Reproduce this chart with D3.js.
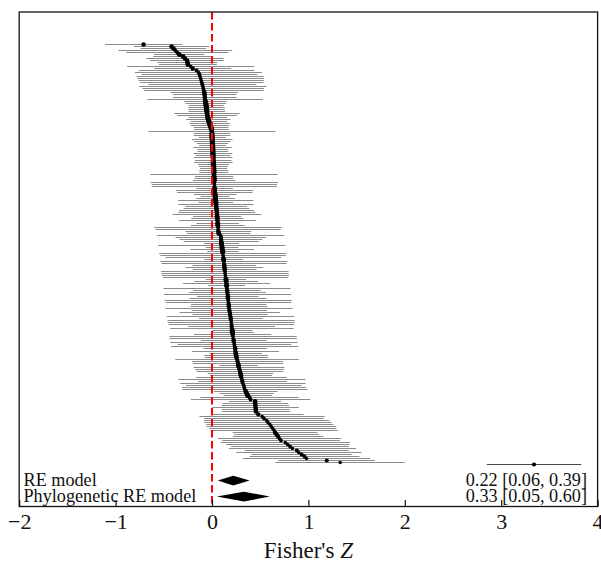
<!DOCTYPE html>
<html>
<head>
<meta charset="utf-8">
<script src="https://cdn.jsdelivr.net/npm/d3@7/dist/d3.min.js"></script>
<style>
  html, body { margin: 0; padding: 0; background: #fff; }
  svg { display: block; }
</style>
</head>
<body>
<svg id="chart" width="601" height="566"></svg>
<script>
// ---- data (Fisher's Z estimates, sorted, with CI half-widths) ----
const est = [
  -0.71, -0.42, -0.40, -0.38, -0.36, -0.34, -0.30, -0.28, -0.26, -0.255,
  -0.25, -0.22, -0.20, -0.16, -0.14, -0.13, -0.124, -0.118, -0.112, -0.106,
  -0.10, -0.095, -0.09, -0.085, -0.08, -0.077, -0.074, -0.071, -0.068, -0.064,
  -0.061, -0.058, -0.056, -0.053, -0.051, -0.048, -0.043, -0.038, -0.032, -0.025,
  -0.018, -0.01,
  -0.005, 0.00, 0.00, 0.00, 0.002, 0.003, 0.004, 0.005, 0.006, 0.007,
  0.008, 0.009, 0.01, 0.011, 0.012, 0.013, 0.014, 0.015, 0.016, 0.017,
  0.018, 0.019, 0.02, 0.021, 0.022, 0.023, 0.024, 0.025, 0.026, 0.027,
  0.028, 0.03, 0.032, 0.034, 0.036, 0.038, 0.04, 0.042, 0.044, 0.046,
  0.048, 0.05,
  0.051, 0.053, 0.055, 0.057, 0.059, 0.061, 0.063, 0.064, 0.066, 0.07,
  0.09, 0.092, 0.094, 0.096, 0.098, 0.10, 0.104, 0.106, 0.11, 0.112,
  0.115, 0.118, 0.12, 0.123, 0.125, 0.127, 0.129, 0.132, 0.134, 0.136,
  0.139, 0.141, 0.145, 0.147, 0.15, 0.152, 0.155, 0.157, 0.16, 0.162,
  0.164, 0.166, 0.169,
  0.17, 0.173, 0.175, 0.178, 0.18, 0.184, 0.187, 0.191, 0.195, 0.198,
  0.20, 0.202, 0.204, 0.207, 0.21, 0.213, 0.215, 0.218, 0.22, 0.225,
  0.228, 0.232, 0.235, 0.24, 0.243, 0.247, 0.25, 0.255, 0.26, 0.265,
  0.27, 0.275, 0.28, 0.285, 0.29, 0.295, 0.30, 0.305, 0.31, 0.315,
  0.32,
  0.33, 0.335, 0.34, 0.35, 0.36, 0.37, 0.39, 0.40, 0.446, 0.448,
  0.45, 0.452, 0.454, 0.456, 0.48, 0.52, 0.54, 0.567, 0.58, 0.60,
  0.615, 0.63, 0.645, 0.654, 0.67, 0.685, 0.70, 0.715, 0.76, 0.785,
  0.81, 0.835, 0.88, 0.90, 0.93, 0.96, 0.98, 1.19, 1.33,
  3.34
];
const halfCI = [
  0.40, 0.39, 0.34, 0.59, 0.53, 0.26, 0.31, 0.40, 0.38, 0.31,
  0.30, 0.66, 0.40, 0.60, 0.66, 0.60, 0.66, 0.66, 0.65, 0.64,
  0.56, 0.66, 0.63, 0.62, 0.35, 0.33, 0.33, 0.60, 0.22, 0.21,
  0.18, 0.19, 0.19, 0.19, 0.34, 0.31, 0.20, 0.23, 0.19, 0.21,
  0.20, 0.18,
  0.18, 0.66, 0.19, 0.19, 0.14, 0.21, 0.19, 0.16, 0.14, 0.20,
  0.16, 0.16, 0.20, 0.18, 0.20, 0.19, 0.20, 0.16, 0.15, 0.14,
  0.15, 0.15, 0.66, 0.20, 0.20, 0.22, 0.66, 0.65, 0.65, 0.19,
  0.40, 0.39, 0.22, 0.15, 0.20, 0.39, 0.18, 0.39, 0.32, 0.34,
  0.39, 0.40,
  0.46, 0.25, 0.27, 0.40, 0.22, 0.28, 0.66, 0.65, 0.34, 0.33,
  0.66, 0.47, 0.43, 0.39, 0.18, 0.66, 0.17, 0.33, 0.16, 0.66,
  0.65, 0.60, 0.20, 0.66, 0.65, 0.33, 0.40, 0.33, 0.66, 0.66,
  0.66, 0.65, 0.21, 0.33, 0.45, 0.19, 0.66, 0.35, 0.40, 0.66,
  0.32, 0.40, 0.66,
  0.65, 0.39, 0.40, 0.66, 0.39, 0.52, 0.39, 0.66, 0.33, 0.66,
  0.66, 0.65, 0.45, 0.64, 0.21, 0.22, 0.40, 0.66, 0.66, 0.34,
  0.66, 0.59, 0.66, 0.33, 0.45, 0.27, 0.33, 0.33, 0.64, 0.47,
  0.47, 0.20, 0.47, 0.46, 0.45, 0.34, 0.32, 0.47, 0.66, 0.46,
  0.65,
  0.60, 0.64, 0.65, 0.33, 0.28, 0.25, 0.51, 0.62, 0.27, 0.34,
  0.35, 0.45, 0.35, 0.35, 0.47, 0.65, 0.62, 0.65, 0.66, 0.66,
  0.67, 0.66, 0.66, 0.44, 0.44, 0.47, 0.64, 0.61, 0.67, 0.64,
  0.61, 0.66, 0.54, 0.65, 0.52, 0.57, 0.66, 0.50, 0.67,
  0.49
];
const modelLabels = ["RE model", "Phylogenetic RE model"];
const modelEst = [0.22, 0.33];
const modelLow = [0.06, 0.05];
const modelHigh = [0.39, 0.60];
const xTicks = [-2, -1, 0, 1, 2, 3, 4];
const xTitle = "Fisher's ";
const xTitleItalic = "Z";

// ---- layout ----
const svg = d3.select("#chart");
const boxL = 19.2, boxR = 597.6, boxT = 12, boxB = 506.5;
const N = est.length;

const x = d3.scaleLinear().domain([-2, 4]).range([boxL, boxR]);
// row positions: studies 0..N-1, summary rows further below
const y = d3.scaleLinear().domain([0, N - 1]).range([43.7, 464.3]);
const rowStep = y(1) - y(0);
const summaryRows = [N - 1 + 16.3 / rowStep, N - 1 + 32.3 / rowStep];
const yPix = i => Math.round(y(i)) + 0.5;

const rScale = d3.scaleLinear().domain([0.14, 0.67]).range([2.7, 1.8]).clamp(true);

const rows = est.map((e, i) => ({ e, h: halfCI[i], i }));

const font = "'Liberation Serif', 'Times New Roman', serif";

// CI lines
svg.append("g")
  .selectAll("line")
  .data(rows)
  .join("line")
  .attr("x1", d => x(d.e - d.h))
  .attr("x2", d => x(d.e + d.h))
  .attr("y1", d => yPix(d.i))
  .attr("y2", d => yPix(d.i))
  .attr("stroke", d => d.i === N - 1 ? "#4a4a4a" : "#8c8c8c")
  .attr("stroke-width", 1);

// points
svg.append("g")
  .selectAll("circle")
  .data(rows)
  .join("circle")
  .attr("cx", d => x(d.e))
  .attr("cy", d => yPix(d.i))
  .attr("r", d => rScale(d.h))
  .attr("fill", "#000");

// summary diamonds
const dh = 4.9;
svg.append("g")
  .selectAll("path")
  .data(modelEst.map((m, k) => ({ m, lo: modelLow[k], hi: modelHigh[k], k })))
  .join("path")
  .attr("d", d => {
    const cy = y(summaryRows[d.k]);
    return `M${x(d.lo)},${cy} L${x(d.m)},${cy - dh} L${x(d.hi)},${cy} L${x(d.m)},${cy + dh} Z`;
  })
  .attr("fill", "#000");

// summary labels
const fmt = d3.format(".2f");
const lab = svg.append("g").attr("font-family", font).attr("font-size", 18.2).attr("fill", "#111");
modelLabels.forEach((t, k) => {
  const cy = y(summaryRows[k]);
  lab.append("text").attr("x", 23.5).attr("y", cy + 5.8).text(t);
  lab.append("text").attr("x", 587).attr("y", cy + 5.8).attr("text-anchor", "end")
    .text(`${fmt(modelEst[k])} [${fmt(modelLow[k])}, ${fmt(modelHigh[k])}]`);
});

// red reference line
svg.append("line")
  .attr("x1", x(0)).attr("x2", x(0))
  .attr("y1", boxT).attr("y2", boxB)
  .attr("stroke", "#ff0000")
  .attr("stroke-width", 2)
  .attr("stroke-dasharray", "7.5,3.5");

// box
svg.append("rect")
  .attr("x", boxL).attr("y", boxT)
  .attr("width", boxR - boxL).attr("height", boxB - boxT)
  .attr("fill", "none").attr("stroke", "#111").attr("stroke-width", 1.3);

// axis (ticks inside)
const axis = d3.axisBottom(x).tickValues(xTicks).tickSize(-6.5).tickPadding(7)
  .tickFormat(d3.format("d"));
const ag = svg.append("g").attr("transform", `translate(0,${boxB})`).call(axis);
ag.select(".domain").remove();
ag.selectAll(".tick line").attr("stroke", "#111").attr("stroke-width", 1.2);
ag.selectAll(".tick text").attr("font-family", font).attr("font-size", 22).attr("fill", "#111");

// x title
const tt = svg.append("text")
  .attr("x", x(1)).attr("y", 558)
  .attr("text-anchor", "middle")
  .attr("font-family", font).attr("font-size", 23).attr("fill", "#111");
tt.append("tspan").text(xTitle);
tt.append("tspan").attr("font-style", "italic").text(xTitleItalic);
</script>
</body>
</html>
